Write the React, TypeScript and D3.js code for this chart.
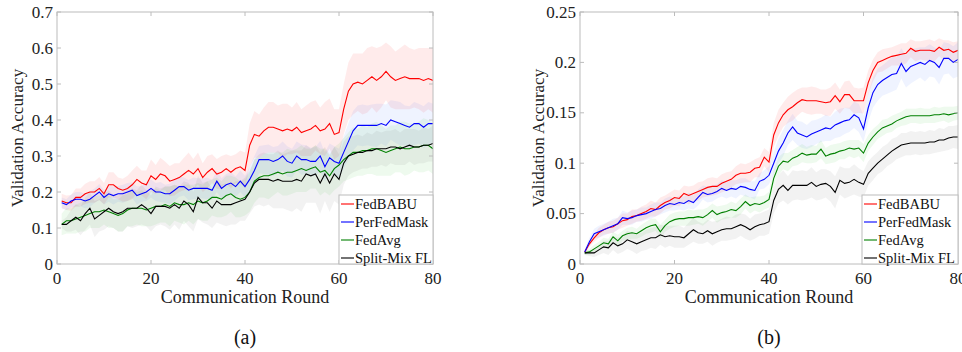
import React from 'react';
import * as d3 from 'd3';

// rounds 1..80
const rounds = Array.from({ length: 80 }, (_, i) => i + 1);

const seriesNames = ['FedBABU', 'PerFedMask', 'FedAvg', 'Split-Mix FL'];
const seriesColors = ['#ff0000', '#0000ff', '#008000', '#000000'];
const bandColors = ['#ff0000', '#3366ff', '#22bb22', '#555555'];

const xTicks = [0, 20, 40, 60, 80];
const yTicksA = [0, 0.1, 0.2, 0.3, 0.4, 0.5, 0.6, 0.7];
const yLabelsA = ['0', '0.1', '0.2', '0.3', '0.4', '0.5', '0.6', '0.7'];
const yTicksB = [0, 0.05, 0.1, 0.15, 0.2, 0.25];
const yLabelsB = ['0', '0.05', '0.1', '0.15', '0.2', '0.25'];

// ---- panel (a) ----
const babuA = [
  0.175, 0.17, 0.17, 0.185, 0.185, 0.195, 0.2, 0.2, 0.21, 0.195,
  0.22, 0.22, 0.21, 0.205, 0.21, 0.22, 0.235, 0.225, 0.22, 0.245,
  0.235, 0.25, 0.245, 0.23, 0.235, 0.24, 0.25, 0.26, 0.25, 0.265,
  0.24, 0.255, 0.265, 0.25, 0.255, 0.265, 0.255, 0.265, 0.27, 0.26,
  0.33, 0.36, 0.355, 0.37, 0.38, 0.38, 0.375, 0.37, 0.375, 0.37,
  0.38, 0.365, 0.37, 0.375, 0.385, 0.37, 0.375, 0.39, 0.36, 0.365,
  0.43, 0.48, 0.5, 0.505, 0.5, 0.51, 0.52, 0.51, 0.52, 0.535,
  0.52, 0.51, 0.515, 0.52, 0.515, 0.515, 0.515, 0.51, 0.515, 0.51,
];
const maskA = [
  0.17, 0.165, 0.175, 0.18, 0.18, 0.175, 0.18, 0.19, 0.2, 0.185,
  0.195, 0.19, 0.195, 0.195, 0.2, 0.205, 0.19, 0.195, 0.2, 0.21,
  0.2, 0.2, 0.195, 0.195, 0.205, 0.215, 0.215, 0.205, 0.21, 0.21,
  0.21, 0.21, 0.205, 0.23, 0.21, 0.22, 0.225, 0.215, 0.23, 0.215,
  0.235, 0.26, 0.29, 0.29, 0.29, 0.285, 0.29, 0.3, 0.285, 0.28,
  0.3, 0.29, 0.29, 0.285, 0.285, 0.3, 0.27, 0.295, 0.285, 0.28,
  0.31, 0.34, 0.37, 0.385, 0.385, 0.385, 0.385, 0.385, 0.39, 0.385,
  0.4, 0.395, 0.39, 0.385, 0.38, 0.39, 0.39, 0.38, 0.39, 0.39,
];
const avgA = [
  0.11, 0.12, 0.12, 0.125, 0.13, 0.135, 0.14, 0.145, 0.145, 0.15,
  0.145, 0.14, 0.135, 0.14, 0.15, 0.155, 0.155, 0.155, 0.15, 0.155,
  0.16, 0.16, 0.165, 0.16, 0.17, 0.165, 0.165, 0.17, 0.165, 0.175,
  0.17, 0.175, 0.185, 0.185, 0.18, 0.19, 0.195, 0.185, 0.18, 0.185,
  0.2, 0.23, 0.24, 0.245, 0.245, 0.25, 0.255, 0.25, 0.255, 0.255,
  0.26, 0.265, 0.26, 0.265, 0.27, 0.255, 0.26, 0.245, 0.265, 0.275,
  0.29, 0.3, 0.31, 0.31, 0.315, 0.315, 0.32, 0.32, 0.315, 0.31,
  0.315, 0.32, 0.325, 0.32, 0.32, 0.325, 0.325, 0.33, 0.33, 0.32,
];
const splitA = [
  0.11, 0.11, 0.12, 0.13, 0.12, 0.14, 0.155, 0.125, 0.135, 0.145,
  0.155, 0.145, 0.14, 0.145, 0.155, 0.155, 0.155, 0.165, 0.155, 0.14,
  0.16, 0.16, 0.16, 0.155, 0.165, 0.155, 0.175, 0.165, 0.145, 0.185,
  0.17, 0.17, 0.155, 0.175, 0.165, 0.165, 0.165, 0.17, 0.175, 0.18,
  0.2, 0.225, 0.235, 0.235, 0.235, 0.23, 0.235, 0.23, 0.23, 0.23,
  0.235, 0.23, 0.25, 0.245, 0.25, 0.225, 0.25, 0.225, 0.25, 0.235,
  0.28, 0.3, 0.305, 0.31, 0.31, 0.315, 0.315, 0.32, 0.32, 0.32,
  0.325, 0.325, 0.32, 0.325, 0.33, 0.325, 0.325, 0.33, 0.33, 0.335,
];
const babuSpreadA = [
  0.02, 0.02, 0.022, 0.025, 0.025, 0.028, 0.03, 0.03, 0.032, 0.03,
  0.035, 0.035, 0.03, 0.032, 0.035, 0.04, 0.038, 0.035, 0.04, 0.045,
  0.04, 0.045, 0.04, 0.042, 0.045, 0.04, 0.045, 0.05, 0.042, 0.045,
  0.04, 0.045, 0.04, 0.042, 0.045, 0.04, 0.045, 0.04, 0.045, 0.05,
  0.06, 0.065, 0.06, 0.065, 0.07, 0.07, 0.065, 0.075, 0.07, 0.065,
  0.07, 0.065, 0.07, 0.075, 0.07, 0.065, 0.075, 0.07, 0.07, 0.065,
  0.07, 0.08, 0.085, 0.08, 0.085, 0.09, 0.085, 0.09, 0.085, 0.08,
  0.085, 0.08, 0.085, 0.09, 0.085, 0.08, 0.085, 0.09, 0.085, 0.09,
];
const maskSpreadA = [
  0.015, 0.015, 0.018, 0.02, 0.02, 0.02, 0.022, 0.02, 0.022, 0.02,
  0.022, 0.025, 0.022, 0.025, 0.025, 0.022, 0.025, 0.022, 0.025, 0.025,
  0.025, 0.028, 0.025, 0.028, 0.03, 0.028, 0.025, 0.028, 0.03, 0.028,
  0.028, 0.03, 0.028, 0.03, 0.028, 0.03, 0.03, 0.028, 0.03, 0.03,
  0.035, 0.04, 0.038, 0.04, 0.042, 0.04, 0.038, 0.04, 0.042, 0.04,
  0.04, 0.042, 0.04, 0.038, 0.04, 0.042, 0.04, 0.04, 0.042, 0.04,
  0.045, 0.05, 0.055, 0.055, 0.058, 0.055, 0.058, 0.06, 0.055, 0.058,
  0.055, 0.058, 0.06, 0.055, 0.058, 0.06, 0.055, 0.058, 0.06, 0.055,
];
const avgSpreadA = [
  0.03, 0.035, 0.035, 0.04, 0.04, 0.045, 0.04, 0.045, 0.045, 0.04,
  0.045, 0.04, 0.045, 0.05, 0.045, 0.05, 0.045, 0.05, 0.045, 0.05,
  0.05, 0.045, 0.05, 0.055, 0.05, 0.05, 0.055, 0.05, 0.055, 0.05,
  0.05, 0.055, 0.05, 0.055, 0.05, 0.055, 0.05, 0.055, 0.05, 0.05,
  0.055, 0.06, 0.055, 0.06, 0.065, 0.06, 0.055, 0.06, 0.065, 0.06,
  0.06, 0.065, 0.06, 0.055, 0.06, 0.065, 0.06, 0.055, 0.06, 0.06,
  0.06, 0.065, 0.07, 0.065, 0.07, 0.065, 0.07, 0.075, 0.07, 0.065,
  0.07, 0.065, 0.07, 0.075, 0.07, 0.065, 0.07, 0.075, 0.07, 0.07,
];
const splitSpreadA = [
  0.01, 0.02, 0.03, 0.035, 0.04, 0.045, 0.045, 0.05, 0.045, 0.05,
  0.05, 0.045, 0.05, 0.055, 0.05, 0.055, 0.05, 0.055, 0.05, 0.05,
  0.055, 0.05, 0.055, 0.06, 0.055, 0.06, 0.055, 0.06, 0.055, 0.06,
  0.055, 0.06, 0.055, 0.06, 0.055, 0.06, 0.055, 0.06, 0.055, 0.06,
  0.06, 0.065, 0.07, 0.075, 0.07, 0.075, 0.08, 0.075, 0.08, 0.085,
  0.08, 0.085, 0.08, 0.075, 0.08, 0.085, 0.075, 0.08, 0.075, 0.07,
  0.06, 0.055, 0.05, 0.05, 0.045, 0.05, 0.045, 0.05, 0.045, 0.05,
  0.045, 0.05, 0.045, 0.05, 0.045, 0.05, 0.045, 0.05, 0.045, 0.05,
];

// ---- panel (b) ----
const babuB = [
  0.012, 0.02, 0.026, 0.031, 0.034, 0.036, 0.037, 0.04, 0.043, 0.044,
  0.047, 0.048, 0.05, 0.052, 0.055, 0.054, 0.058, 0.061, 0.063, 0.066,
  0.065, 0.07, 0.068, 0.07, 0.072, 0.074, 0.076, 0.077, 0.077, 0.08,
  0.082, 0.084, 0.088, 0.09, 0.09, 0.091, 0.095, 0.096, 0.106, 0.101,
  0.128, 0.14, 0.148, 0.153, 0.156, 0.16, 0.163, 0.162, 0.162, 0.162,
  0.161, 0.16, 0.161, 0.167, 0.161, 0.168, 0.168, 0.162, 0.162, 0.162,
  0.18, 0.192, 0.2, 0.202, 0.204, 0.206, 0.207, 0.208, 0.209, 0.214,
  0.211, 0.212, 0.212, 0.212, 0.211, 0.215, 0.212, 0.213, 0.21, 0.212,
];
const maskB = [
  0.012, 0.022, 0.03, 0.032, 0.034, 0.036, 0.038, 0.04, 0.046, 0.045,
  0.046, 0.048, 0.049, 0.05, 0.052, 0.054, 0.055, 0.058, 0.06, 0.059,
  0.061, 0.06, 0.063, 0.061, 0.066, 0.071, 0.069, 0.07, 0.072, 0.075,
  0.073, 0.075, 0.074, 0.077, 0.076, 0.074, 0.073, 0.082, 0.084, 0.088,
  0.1, 0.112, 0.12, 0.13, 0.136, 0.13, 0.128, 0.126, 0.129, 0.131,
  0.133, 0.135, 0.134, 0.138, 0.14, 0.142, 0.143, 0.148, 0.145, 0.134,
  0.155, 0.17, 0.178, 0.182, 0.185, 0.188, 0.189, 0.199, 0.191, 0.196,
  0.198, 0.2, 0.198, 0.202, 0.2, 0.195, 0.204, 0.204, 0.2, 0.203,
];
const avgB = [
  0.011, 0.012, 0.015, 0.018, 0.021, 0.02, 0.027, 0.023, 0.028, 0.03,
  0.031, 0.03, 0.033, 0.036, 0.038, 0.039, 0.032, 0.038, 0.042, 0.044,
  0.045, 0.045, 0.046, 0.046, 0.047, 0.046, 0.049, 0.053, 0.049, 0.051,
  0.052, 0.054, 0.053, 0.057, 0.062, 0.058, 0.06, 0.059, 0.061, 0.064,
  0.085, 0.097, 0.102, 0.101, 0.105, 0.107, 0.11, 0.108, 0.109, 0.109,
  0.114, 0.107, 0.109, 0.11, 0.112, 0.113, 0.115, 0.114, 0.115, 0.11,
  0.12, 0.126, 0.131, 0.135, 0.137, 0.139, 0.142, 0.144, 0.146, 0.147,
  0.147, 0.147, 0.147, 0.147, 0.148, 0.148, 0.149, 0.148, 0.149, 0.15,
];
const splitB = [
  0.011, 0.011, 0.011, 0.014, 0.017, 0.016, 0.021, 0.018, 0.02, 0.024,
  0.022, 0.02, 0.022, 0.024, 0.026, 0.026, 0.029, 0.027, 0.028, 0.027,
  0.027, 0.026, 0.03, 0.034, 0.031, 0.03, 0.033, 0.03, 0.032, 0.034,
  0.035, 0.035, 0.037, 0.039, 0.037, 0.034, 0.037, 0.039, 0.04, 0.042,
  0.063, 0.074, 0.078, 0.073, 0.078, 0.078, 0.078, 0.078, 0.081, 0.077,
  0.079, 0.08, 0.077, 0.071, 0.083, 0.08, 0.081, 0.084, 0.081, 0.079,
  0.09, 0.095, 0.1, 0.104, 0.108, 0.112, 0.115, 0.118, 0.119, 0.12,
  0.12, 0.12, 0.12, 0.121, 0.121, 0.123, 0.123, 0.125, 0.126, 0.126,
];
const babuSpreadB = [
  0.002, 0.003, 0.004, 0.005, 0.005, 0.006, 0.006, 0.006, 0.007, 0.006,
  0.007, 0.006, 0.007, 0.007, 0.008, 0.007, 0.008, 0.007, 0.008, 0.008,
  0.008, 0.008, 0.009, 0.008, 0.009, 0.008, 0.009, 0.009, 0.008, 0.009,
  0.009, 0.008, 0.009, 0.01, 0.009, 0.01, 0.009, 0.01, 0.009, 0.01,
  0.012, 0.013, 0.012, 0.013, 0.014, 0.013, 0.012, 0.013, 0.014, 0.013,
  0.012, 0.013, 0.014, 0.013, 0.012, 0.013, 0.014, 0.013, 0.012, 0.013,
  0.012, 0.011, 0.01, 0.011, 0.01, 0.009, 0.01, 0.011, 0.01, 0.009,
  0.01, 0.009, 0.01, 0.011, 0.01, 0.009, 0.01, 0.009, 0.01, 0.009,
];
const maskSpreadB = [
  0.003, 0.004, 0.005, 0.006, 0.006, 0.006, 0.007, 0.006, 0.007, 0.006,
  0.007, 0.006, 0.007, 0.006, 0.007, 0.007, 0.006, 0.007, 0.007, 0.006,
  0.007, 0.007, 0.008, 0.007, 0.008, 0.007, 0.008, 0.008, 0.007, 0.008,
  0.008, 0.008, 0.009, 0.008, 0.009, 0.008, 0.009, 0.008, 0.009, 0.009,
  0.011, 0.012, 0.013, 0.012, 0.013, 0.012, 0.013, 0.012, 0.013, 0.012,
  0.012, 0.013, 0.012, 0.013, 0.014, 0.013, 0.012, 0.013, 0.014, 0.013,
  0.014, 0.015, 0.016, 0.015, 0.016, 0.017, 0.016, 0.015, 0.016, 0.017,
  0.016, 0.015, 0.017, 0.016, 0.015, 0.017, 0.016, 0.015, 0.016, 0.017,
];
const avgSpreadB = [
  0.002, 0.003, 0.004, 0.004, 0.005, 0.005, 0.005, 0.006, 0.005, 0.006,
  0.006, 0.005, 0.006, 0.006, 0.007, 0.006, 0.007, 0.006, 0.007, 0.007,
  0.007, 0.007, 0.008, 0.007, 0.007, 0.008, 0.007, 0.007, 0.008, 0.007,
  0.007, 0.008, 0.007, 0.008, 0.007, 0.008, 0.007, 0.008, 0.007, 0.008,
  0.008, 0.009, 0.008, 0.009, 0.008, 0.009, 0.009, 0.008, 0.009, 0.008,
  0.009, 0.008, 0.009, 0.009, 0.008, 0.009, 0.008, 0.009, 0.008, 0.009,
  0.008, 0.008, 0.007, 0.008, 0.007, 0.008, 0.007, 0.007, 0.008, 0.007,
  0.007, 0.008, 0.007, 0.007, 0.008, 0.007, 0.007, 0.008, 0.007, 0.007,
];
const splitSpreadB = [
  0.002, 0.003, 0.004, 0.005, 0.006, 0.007, 0.007, 0.008, 0.008, 0.009,
  0.009, 0.01, 0.009, 0.01, 0.01, 0.011, 0.01, 0.011, 0.01, 0.011,
  0.011, 0.01, 0.011, 0.012, 0.011, 0.01, 0.011, 0.012, 0.011, 0.011,
  0.012, 0.011, 0.012, 0.011, 0.012, 0.011, 0.012, 0.011, 0.012, 0.012,
  0.013, 0.014, 0.015, 0.014, 0.015, 0.014, 0.015, 0.014, 0.015, 0.014,
  0.015, 0.014, 0.015, 0.016, 0.014, 0.015, 0.014, 0.015, 0.014, 0.013,
  0.012, 0.012, 0.011, 0.012, 0.011, 0.012, 0.011, 0.012, 0.011, 0.012,
  0.011, 0.012, 0.011, 0.012, 0.011, 0.012, 0.011, 0.012, 0.011, 0.012,
];

const FONT = '"Liberation Serif", "Times New Roman", Times, serif';
const txt = { fontFamily: FONT };

interface PanelProps {
  left: number;
  right: number;
  yMax: number;
  yTicks: number[];
  yLabels: string[];
  means: number[][];
  spreads: number[][];
  tag: string;
  yTitleX: number;
  legW: number;
}

const Panel: React.FC<PanelProps> = ({ left, right, yMax, yTicks, yLabels, means, spreads, tag, yTitleX, legW }) => {
  const top = 12;
  const bottom = 264;
  const x = d3.scaleLinear().domain([0, 80]).range([left, right]);
  const y = d3.scaleLinear().domain([0, yMax]).range([bottom, top]);
  const clipId = `clip-${tag}`;

  const line = d3.line<number>().x((_, i) => x(rounds[i])).y(d => y(d));

  // legend box in the lower right corner
  const legX = right - legW;
  const legY = 195;

  return (
    <g>
      <defs>
        <clipPath id={clipId}>
          <rect x={left} y={top} width={right - left} height={bottom - top} />
        </clipPath>
      </defs>
      <g clipPath={`url(#${clipId})`}>
        {means.map((m, k) => {
          const band = d3.area<number>()
            .x((_, i) => x(rounds[i]))
            .y0((d, i) => y(d - spreads[k][i]))
            .y1((d, i) => y(d + spreads[k][i]));
          return <path key={`b${k}`} d={band(m) || ''} fill={bandColors[k]} fillOpacity={0.08} stroke="none" />;
        })}
        {means.map((m, k) => (
          <path key={`l${k}`} d={line(m) || ''} fill="none" stroke={seriesColors[k]} strokeWidth={1.1} />
        ))}
      </g>
      {/* box */}
      <rect x={left} y={top} width={right - left} height={bottom - top} fill="none" stroke="#bcbcbc" strokeWidth={1} />
      {xTicks.map(t => (
        <g key={`x${t}`}>
          <line x1={x(t)} x2={x(t)} y1={bottom} y2={bottom - 4} stroke="#bcbcbc" />
          <line x1={x(t)} x2={x(t)} y1={top} y2={top + 4} stroke="#bcbcbc" />
          <text x={x(t)} y={284} textAnchor="middle" fontSize={17} fill="#222" style={txt}>{t}</text>
        </g>
      ))}
      {yTicks.map((t, i) => (
        <g key={`y${t}`}>
          <line x1={left} x2={left + 4} y1={y(t)} y2={y(t)} stroke="#bcbcbc" />
          <line x1={right} x2={right - 4} y1={y(t)} y2={y(t)} stroke="#bcbcbc" />
          <text x={left - 4} y={y(t) + 5.5} textAnchor="end" fontSize={17} fill="#222" style={txt}>{yLabels[i]}</text>
        </g>
      ))}
      <text x={(left + right) / 2} y={303} textAnchor="middle" fontSize={18} fill="#222" style={txt}>Communication Round</text>
      <text transform={`translate(${yTitleX},${(top + bottom) / 2}) rotate(-90)`} textAnchor="middle" fontSize={17} fill="#222" style={txt}>
        Validation Accuracy
      </text>
      <text x={(left + right) / 2} y={344} textAnchor="middle" fontSize={20} fill="#111" style={txt}>({tag})</text>
      {/* legend */}
      <rect x={legX} y={legY} width={legW} height={bottom - legY} fill="#fff" stroke="#bcbcbc" />
      {seriesNames.map((name, k) => (
        <g key={name}>
          <line x1={legX + 2} x2={legX + 15} y1={legY + 9 + k * 18} y2={legY + 9 + k * 18} stroke={seriesColors[k]} strokeWidth={1.1} />
          <text x={legX + 16} y={legY + 14 + k * 18} fontSize={14.5} fill="#111" style={txt}>{name}</text>
        </g>
      ))}
    </g>
  );
};

export default function App() {
  return (
    <svg width={962} height={352} style={{ position: 'absolute', left: 0, top: 0, background: '#fff' }}>
      <rect width={962} height={352} fill="#fff" />
      <Panel
        left={57} right={433} yMax={0.7} yTicks={yTicksA} yLabels={yLabelsA}
        means={[babuA, maskA, avgA, splitA]}
        spreads={[babuSpreadA, maskSpreadA, avgSpreadA, splitSpreadA]}
        tag="a" yTitleX={23} legW={94}
      />
      <Panel
        left={580} right={958} yMax={0.25} yTicks={yTicksB} yLabels={yLabelsB}
        means={[babuB, maskB, avgB, splitB]}
        spreads={[babuSpreadB, maskSpreadB, avgSpreadB, splitSpreadB]}
        tag="b" yTitleX={544} legW={96}
      />
    </svg>
  );
}
